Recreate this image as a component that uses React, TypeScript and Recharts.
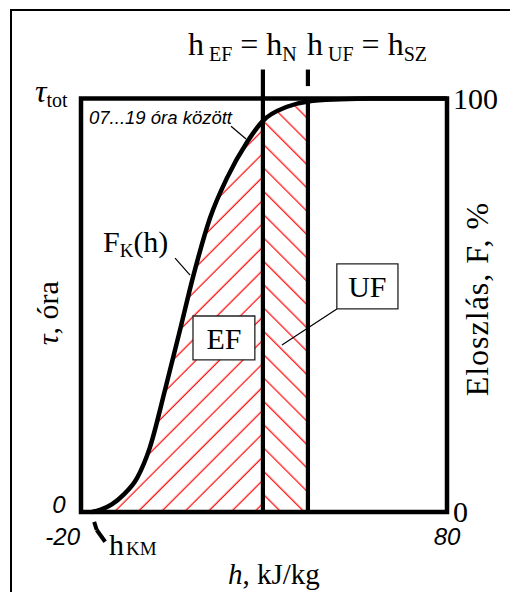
import React from "react"
import {
  ComposedChart,
  Line,
  Area,
  XAxis,
  YAxis,
  ReferenceLine,
  ReferenceArea,
  ReferenceDot,
  Label,
} from "recharts"

// enthalpy h, kJ/kg  ->  cumulative distribution F_K(h), %
const hValues = [-17, -14.8, -11.5, -8.5, -4.7, -1.15, 2.95, 7.05, 10.6, 15.25, 19.9, 25.4, 29.7, 36.3, 42, 50.8, 59, 80]
const fValues = [0, 0.5, 1.9, 4.1, 8.2, 15.7, 29.5, 44.0, 56.8, 71.1, 80.8, 89.5, 94.6, 98.0, 99.3, 99.8, 100, 100]

const hEF = 29.7
const hUF = 42
const xTicks = [-20, 80]
const yTicks = [0, 100]

const rows = hValues.map((h, i) => ({
  h,
  f: fValues[i],
  ef: h <= hEF ? fValues[i] : null,
  uf: h >= hEF && h <= hUF ? fValues[i] : null,
}))

const serif = "'Liberation Serif', 'Times New Roman', serif"
const sans = "'Liberation Sans', Arial, sans-serif"

// eslint-disable-next-line @typescript-eslint/no-explicit-any
function XTick({ x, y, payload }: any) {
  const first = payload.value === xTicks[0]
  return (
    <text
      x={first ? x - 1 : x}
      y={y + 33}
      textAnchor={first ? "end" : "middle"}
      fontFamily={sans}
      fontStyle="italic"
      fontSize={24}
      fill="#000"
    >
      {payload.value}
    </text>
  )
}

// eslint-disable-next-line @typescript-eslint/no-explicit-any
function LeftTick({ x, y, payload }: any) {
  if (payload.value === 0) {
    return (
      <text x={x - 22} y={y + 1} textAnchor="middle" fontFamily={sans} fontStyle="italic" fontSize={24} fill="#000">
        0
      </text>
    )
  }
  return (
    <text x={x - 46} y={y + 3.5} fontFamily={serif} fill="#000">
      <tspan fontStyle="italic" fontSize={32}>τ</tspan>
      <tspan fontSize={20} dy={5}>tot</tspan>
    </text>
  )
}

// eslint-disable-next-line @typescript-eslint/no-explicit-any
function RightTick({ x, y, payload }: any) {
  return (
    <text x={x + 6} y={y + 10} fontFamily={serif} fontSize={30} fill="#000">
      {payload.value}
    </text>
  )
}

// label renderer anchored on a zero-radius ReferenceDot
// eslint-disable-next-line @typescript-eslint/no-explicit-any
const at = (draw: (x: number, y: number) => React.ReactNode) => (props: any) => {
  const vb = props.viewBox
  return <g>{draw(vb.x, vb.y)}</g>
}

// eslint-disable-next-line @typescript-eslint/no-explicit-any
const boxText = (txt: string) => (props: any) => {
  const vb = props.viewBox
  return (
    <text x={vb.x + vb.width / 2} y={vb.y + vb.height / 2 + 11} textAnchor="middle" fontFamily={serif} fontSize={30} fill="#000">
      {txt}
    </text>
  )
}

const anchor = { r: 0, fill: "none", stroke: "none", ifOverflow: "visible" as const, yAxisId: "l" }
const leader = { stroke: "#000", strokeWidth: 1.2, ifOverflow: "visible" as const, yAxisId: "l" }

export default function App() {
  return (
    <div style={{ position: "absolute", left: 0, top: 0, width: 510, height: 592, overflow: "hidden", background: "#fff" }}>
      <div
        style={{
          position: "absolute",
          left: 10,
          top: 9,
          width: 600,
          height: 700,
          borderLeft: "2px solid #000",
          borderTop: "2px solid #000",
        }}
      />
      <div style={{ position: "absolute", left: 0, top: 0 }}>
        <ComposedChart width={510} height={592} data={rows} margin={{ top: 98.5, right: 23, bottom: 40, left: 41 }}>
          <defs>
            <pattern id="hatchEF" patternUnits="userSpaceOnUse" width={16.5} height={16.5} patternTransform="rotate(45)">
              <line x1={13.9} y1={0} x2={13.9} y2={16.5} stroke="#ff0000" strokeWidth={1.2} />
            </pattern>
            <pattern id="hatchUF" patternUnits="userSpaceOnUse" width={16.5} height={16.5} patternTransform="rotate(-45)">
              <line x1={1.7} y1={0} x2={1.7} y2={16.5} stroke="#ff0000" strokeWidth={1.2} />
            </pattern>
          </defs>
          <XAxis
            dataKey="h"
            type="number"
            domain={[-20, 80]}
            ticks={xTicks}
            height={40}
            tickSize={0}
            tickMargin={0}
            axisLine={false}
            tickLine={false}
            interval={0}
            tick={(p) => <XTick {...p} />}
          />
          <YAxis
            yAxisId="l"
            type="number"
            domain={[0, 100]}
            ticks={yTicks}
            width={40}
            tickSize={0}
            tickMargin={0}
            axisLine={false}
            tickLine={false}
            interval={0}
            tick={(p) => <LeftTick {...p} />}
          />
          <YAxis
            yAxisId="r"
            orientation="right"
            type="number"
            domain={[0, 100]}
            ticks={yTicks}
            width={40}
            tickSize={0}
            tickMargin={0}
            axisLine={false}
            tickLine={false}
            interval={0}
            tick={(p) => <RightTick {...p} />}
          />

          <Area yAxisId="l" dataKey="ef" type="monotone" stroke="none" fill="url(#hatchEF)" fillOpacity={1} isAnimationActive={false} />
          <Area yAxisId="l" dataKey="uf" type="monotone" stroke="none" fill="url(#hatchUF)" fillOpacity={1} isAnimationActive={false} />

          <ReferenceArea yAxisId="l" x1={-20} x2={80} y1={0} y2={100} fill="none" stroke="#000" strokeWidth={4.5} />

          <ReferenceLine yAxisId="l" segment={[{ x: hEF, y: 0 }, { x: hEF, y: 107 }]} stroke="#000" strokeWidth={4.2} ifOverflow="visible" />
          <ReferenceLine yAxisId="l" segment={[{ x: hUF, y: 0 }, { x: hUF, y: 100 }]} stroke="#000" strokeWidth={4.2} ifOverflow="visible" />
          <ReferenceLine yAxisId="l" segment={[{ x: hUF, y: 103 }, { x: hUF, y: 107 }]} stroke="#000" strokeWidth={4.2} ifOverflow="visible" />

          {/* the distribution curve is read on the right-hand % axis (same 0..100 range) */}
          <Line yAxisId="r" dataKey="f" type="monotone" stroke="#000" strokeWidth={4.5} dot={false} isAnimationActive={false} />

          {/* leader lines */}
          <ReferenceLine {...leader} segment={[{ x: 21.0, y: 93.3 }, { x: 25.1, y: 90.2 }]} />
          <ReferenceLine {...leader} segment={[{ x: 5.7, y: 61.4 }, { x: 9.8, y: 57.3 }]} />
          <ReferenceLine {...leader} segment={[{ x: 49.9, y: 49.1 }, { x: 34.9, y: 40.4 }]} />
          <ReferenceLine {...leader} strokeWidth={4} segment={[{ x: -16.4, y: -2.4 }, { x: -15.7, y: -4.35 }]} />
          <ReferenceLine {...leader} strokeWidth={4} segment={[{ x: -15.7, y: -4.35 }, { x: -13.4, y: -7.2 }]} />

          {/* EF / UF boxes */}
          <ReferenceArea yAxisId="l" x1={10.6} x2={27.5} y1={36.8} y2={47.4} fill="#fff" fillOpacity={1} stroke="#222" strokeWidth={1.3}>
            <Label content={boxText("EF")} />
          </ReferenceArea>
          <ReferenceArea yAxisId="l" x1={49.9} x2={66.6} y1={49.1} y2={60} fill="#fff" fillOpacity={1} stroke="#222" strokeWidth={1.3}>
            <Label content={boxText("UF")} />
          </ReferenceArea>

          {/* text annotations */}
          <ReferenceDot {...anchor} x={9.23} y={110.5}>
            <Label
              content={at((x, y) => (
                <text x={x} y={y} fontFamily={serif} fontSize={32} fill="#000">
                  h<tspan fontSize={20} dy={6}> EF</tspan>
                  <tspan dy={-6}> = h</tspan>
                  <tspan fontSize={20} dy={6}>N</tspan>
                </text>
              ))}
            />
          </ReferenceDot>
          <ReferenceDot {...anchor} x={41.75} y={110.5}>
            <Label
              content={at((x, y) => (
                <text x={x} y={y} fontFamily={serif} fontSize={32} fill="#000">
                  h<tspan fontSize={20} dy={6}> UF</tspan>
                  <tspan dy={-6}> = h</tspan>
                  <tspan fontSize={20} dy={6}>SZ</tspan>
                </text>
              ))}
            />
          </ReferenceDot>
          <ReferenceDot {...anchor} x={-17.8} y={93.8}>
            <Label
              content={at((x, y) => (
                <text x={x} y={y} fontFamily={sans} fontStyle="italic" fontSize={18.5} fill="#000">
                  07...19 óra között
                </text>
              ))}
            />
          </ReferenceDot>
          <ReferenceDot {...anchor} x={-14} y={62.9}>
            <Label
              content={at((x, y) => (
                <text x={x} y={y} fontFamily={serif} fontSize={30} fill="#000">
                  F<tspan fontSize={19} dy={5}>K</tspan>
                  <tspan dy={-5}>(h)</tspan>
                </text>
              ))}
            />
          </ReferenceDot>
          <ReferenceDot {...anchor} x={-12.35} y={-10.4}>
            <Label
              content={at((x, y) => (
                <text x={x} y={y} fontFamily={serif} fontSize={30} fill="#000">
                  h<tspan fontSize={19} dx={2}>KM</tspan>
                </text>
              ))}
            />
          </ReferenceDot>
          <ReferenceDot {...anchor} x={32.7} y={-17.4}>
            <Label
              content={at((x, y) => (
                <text x={x} y={y} textAnchor="middle" fontFamily={serif} fontSize={29} fill="#000">
                  <tspan fontStyle="italic">h</tspan>, kJ/kg
                </text>
              ))}
            />
          </ReferenceDot>
          <ReferenceDot {...anchor} x={-29} y={48.1}>
            <Label
              content={at((x, y) => (
                <text x={x} y={y} textAnchor="middle" fontFamily={serif} fontSize={30} fill="#000" transform={`rotate(-90 ${x} ${y})`} dy={10}>
                  <tspan fontStyle="italic">τ</tspan>, óra
                </text>
              ))}
            />
          </ReferenceDot>
          <ReferenceDot {...anchor} x={88.2} y={51.5}>
            <Label
              content={at((x, y) => (
                <text x={x} y={y} textAnchor="middle" fontFamily={serif} fontSize={32} letterSpacing={1} fill="#000" transform={`rotate(-90 ${x} ${y})`} dy={11}>
                  Eloszlás, F, %
                </text>
              ))}
            />
          </ReferenceDot>
        </ComposedChart>
      </div>
    </div>
  )
}
